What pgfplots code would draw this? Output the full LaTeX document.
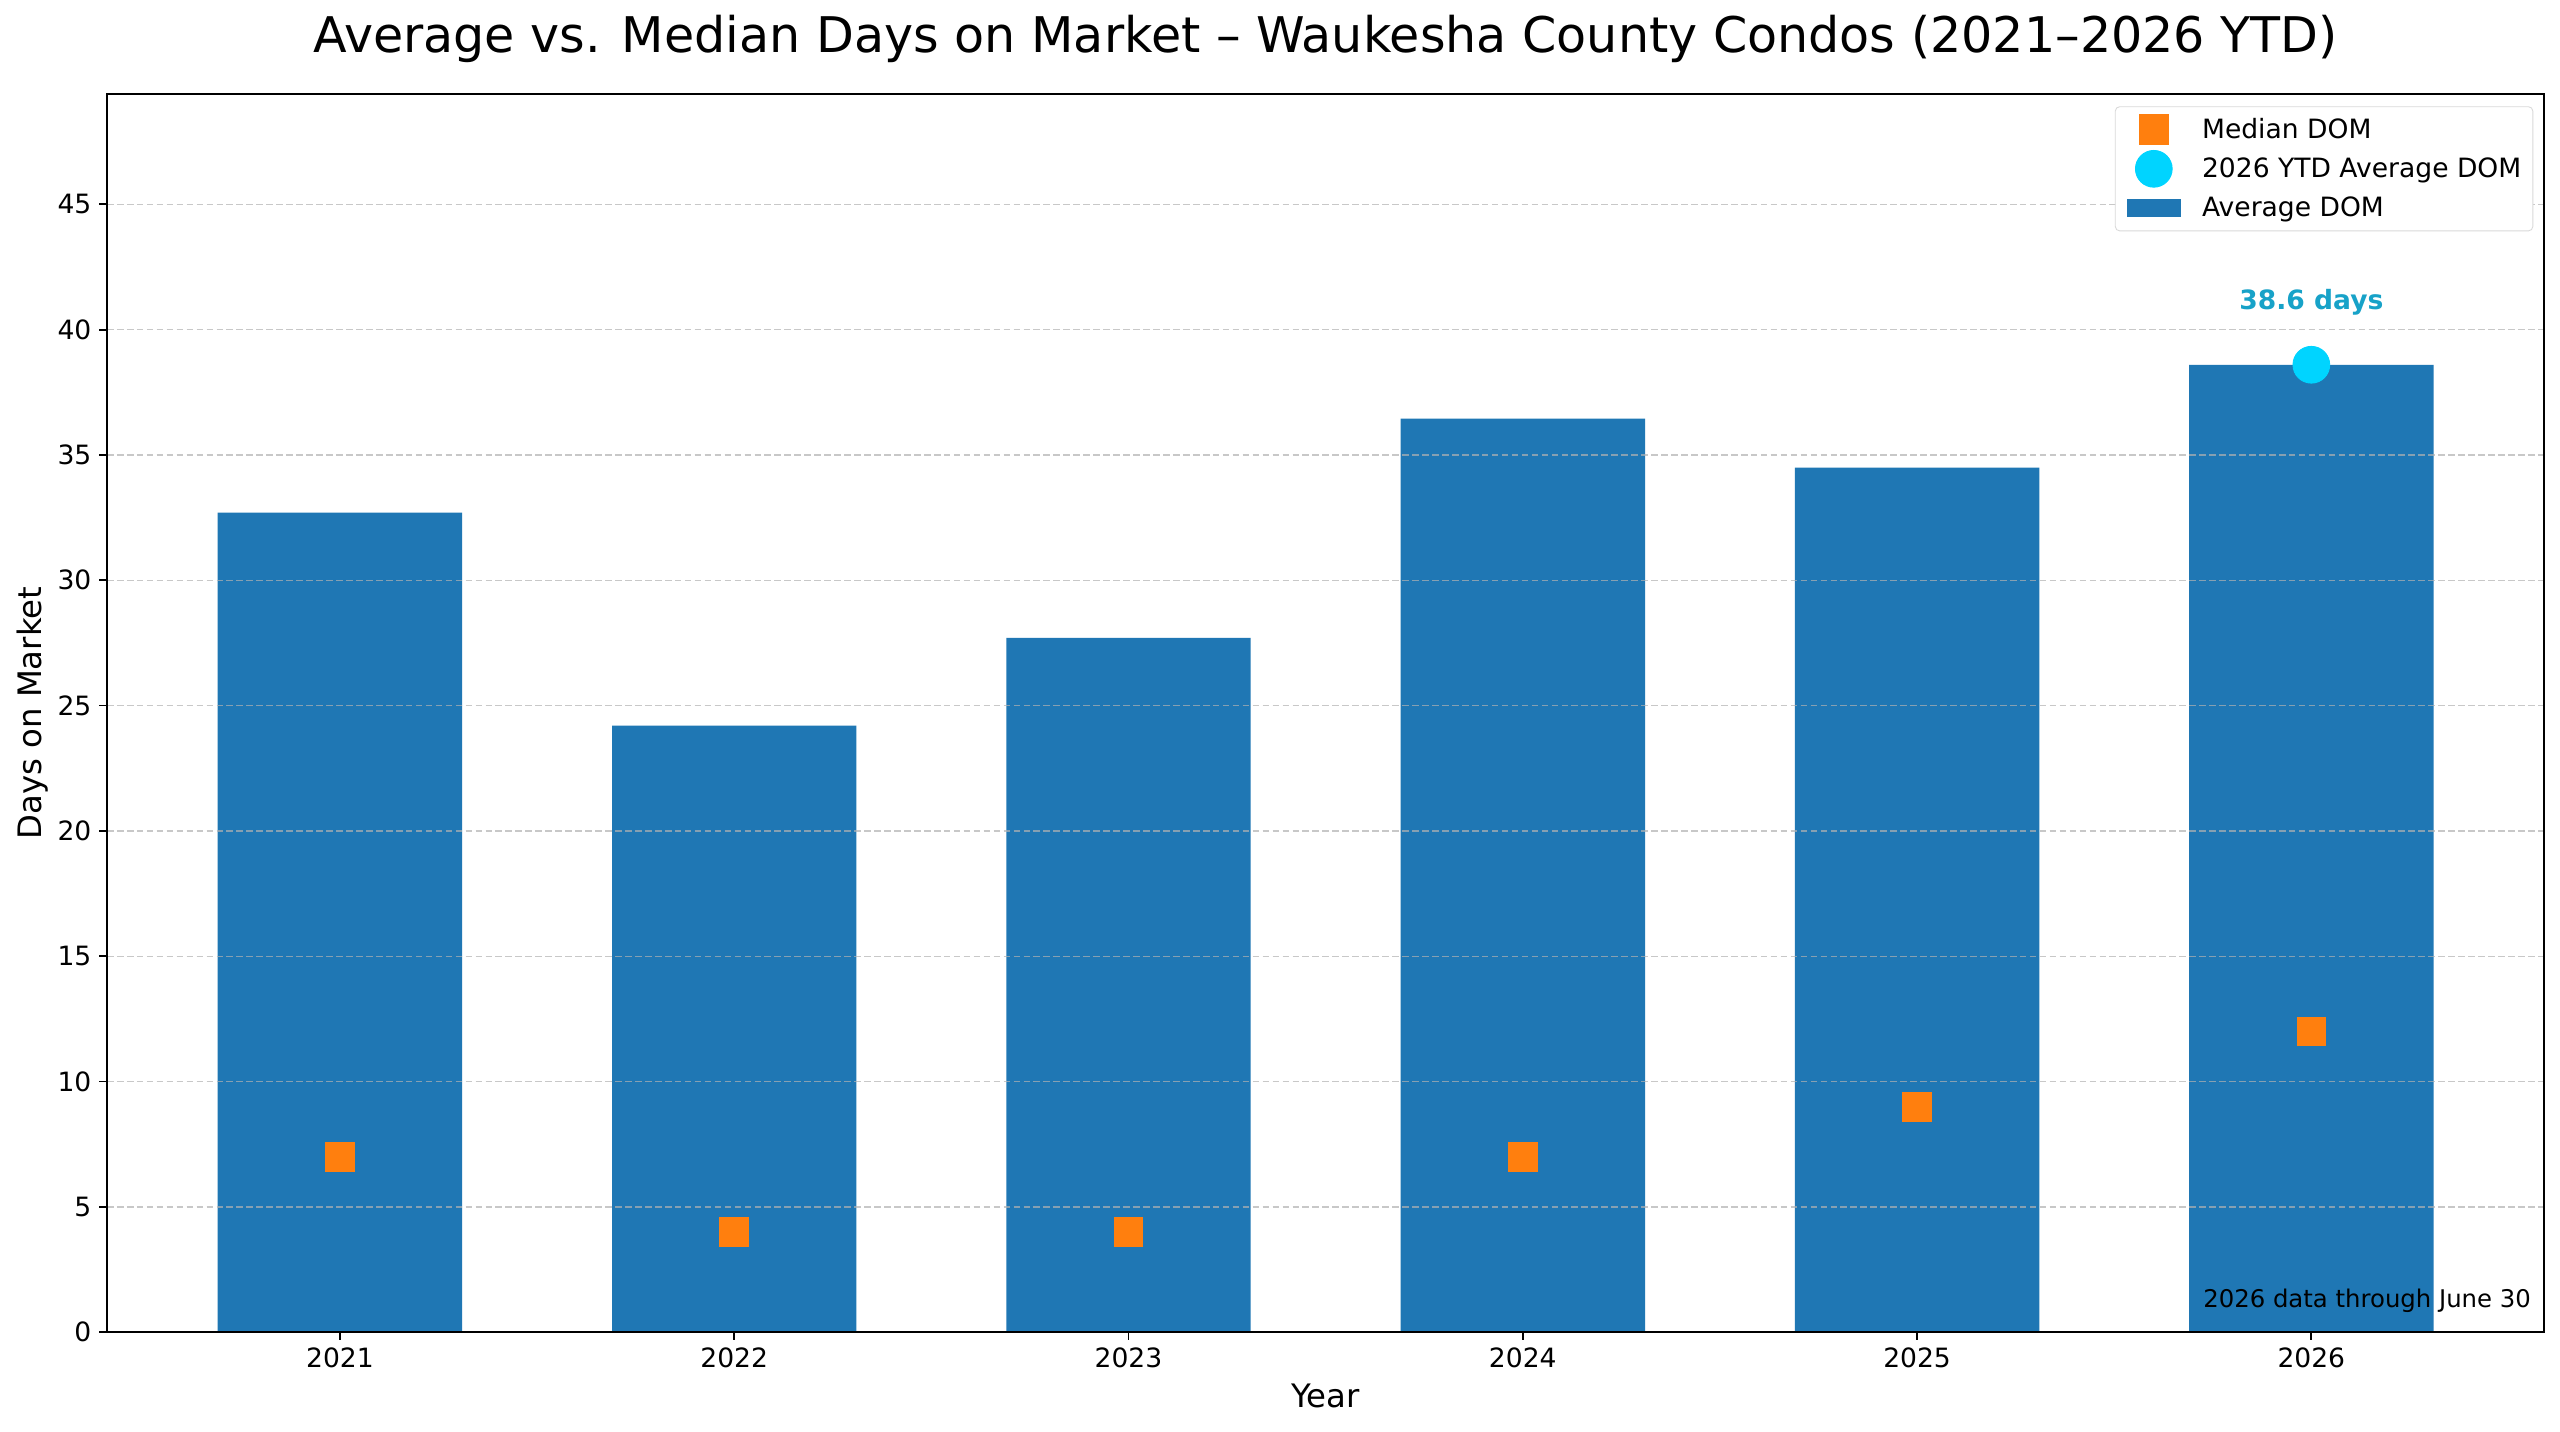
\documentclass[border=0pt]{standalone}
\usepackage{fontspec}
\setmainfont{DejaVu Sans}
\usepackage{pgfplots}
\pgfplotsset{compat=1.18}
\definecolor{mblue}{HTML}{1F77B4}
\definecolor{morange}{HTML}{FF7F0E}
\definecolor{mcyan}{HTML}{00D4FF}
\definecolor{mannot}{HTML}{17A2C8}
\begin{document}
\begin{tikzpicture}
\path[use as bounding box, fill=white] (0,0) rectangle (1156.3pt,646.4pt);
\begin{axis}[
  at={(48.3pt,44.7pt)}, anchor=south west, scale only axis,
  width=1100.9pt, height=559.2pt,
  xmin=-0.591, xmax=5.591, ymin=0, ymax=49.4,
  xtick={0,1,2,3,4,5}, xticklabels={2021,2022,2023,2024,2025,2026},
  ytick={0,5,10,15,20,25,30,35,40,45},
  tick align=outside, tick pos=left, major tick length=3.5pt,
  tick style={black, line width=0.8pt},
  axis line style={black, line width=0.8pt},
  ticklabel style={font=\fontsize{12}{14}\selectfont},
  /pgf/number format/assume math mode=true,
  ymajorgrids, grid style={dash pattern=on 3pt off 1.5pt, gray!60, opacity=0.7, line width=0.6pt},
  axis on top,
  legend cell align=left,
  legend style={at={(1,1)}, anchor=north east, xshift=-5pt, yshift=-5.5pt,
    draw=gray!30, rounded corners=2pt, fill=white,
    font=\fontsize{12}{14}\selectfont, inner xsep=5.2pt, inner ysep=1.5pt,
    row sep=0pt,
    /tikz/every odd column/.append style={column sep=9.6pt},
    nodes={inner sep=0pt}},
]
\addlegendimage{legend image code/.code={\path[draw=none,fill=none] (0pt,-8.85pt) rectangle (24pt,8.85pt); \fill[morange, sharp corners] (5.3pt,-6.7pt) rectangle (18.7pt,6.7pt);}}
\addlegendentry{Median DOM}
\addlegendimage{legend image code/.code={\path[draw=none,fill=none] (0pt,-8.85pt) rectangle (24pt,8.85pt); \fill[mcyan] (12pt,0pt) circle (8.3pt);}}
\addlegendentry{2026 YTD Average DOM}
\addlegendimage{legend image code/.code={\path[draw=none,fill=none] (0pt,-8.85pt) rectangle (24pt,8.85pt); \fill[mblue, sharp corners] (0pt,-4pt) rectangle (24pt,4pt);}}
\addlegendentry{Average DOM}

\addplot[ybar, bar width=0.62, fill=mblue, draw=none, forget plot]
  coordinates {(0,32.7) (1,24.2) (2,27.7) (3,36.45) (4,34.5) (5,38.6)};
\addplot[only marks, mark=square*, mark size=6.5pt, color=morange, forget plot]
  coordinates {(0,7) (1,4) (2,4) (3,7) (4,9) (5,12)};
\addplot[only marks, mark=*, mark size=8.3pt, color=mcyan, forget plot]
  coordinates {(5,38.6)};

\node[font=\bfseries\fontsize{12}{14}\selectfont, text=mannot] at (axis cs:5,41.1) {38.6 days};
\node[font=\fontsize{11}{13}\selectfont, anchor=base east, inner sep=0pt] at ([xshift=-5.9pt,yshift=11pt]rel axis cs:1,0) {2026 data through June 30};
\end{axis}
\node[font=\fontsize{22.2}{26}\selectfont] at (598.7pt,628.8pt) {Average vs. Median Days on Market – Waukesha County Condos (2021–2026 YTD)};
\node[font=\fontsize{14.6}{17}\selectfont] at (598.7pt,15.8pt) {Year};
\node[font=\fontsize{14.6}{17}\selectfont, rotate=90] at (14.7pt,324.3pt) {Days on Market};
\end{tikzpicture}
\end{document}
